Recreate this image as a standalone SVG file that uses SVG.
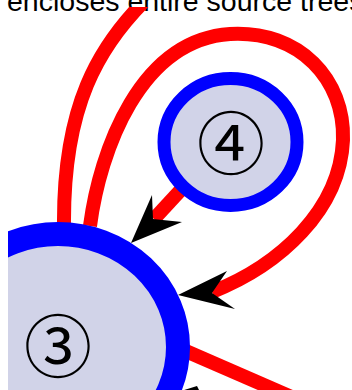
<svg xmlns="http://www.w3.org/2000/svg" width="352" height="390" viewBox="0 0 352 390">
<style>
.edge{fill:none;stroke:#ff0000;stroke-width:14;}
.arrow{fill:#000000;stroke:none;}
.node{fill:#d1d3e8;stroke:#0000ff;}
.lbl{font-family:"Noto Sans CJK JP","Noto Sans CJK SC",sans-serif;font-size:68px;fill:#000;}
.title{font-family:"Liberation Sans",Arial,sans-serif;font-size:28.5px;fill:#000;}
</style>
<defs>
<clipPath id="clipL"><rect x="8" y="7" width="344" height="383"/></clipPath>
</defs>
<text class="title" x="7" y="11">encloses entire source trees</text>
<g clip-path="url(#clipL)">
<g id="edges">
<path class="edge" d="M 158 -12 C 95 45, 63 110, 64 226"/>
<path class="edge" d="M 90 226 C 100 150, 140 40, 230 34 C 300 30, 345 80, 343 140 C 340 210, 280 265, 212 292"/>
<path class="edge" d="M 190 180 L 154 219" stroke-width="13"/>
<path class="edge" d="M 165 342 L 365 429"/>
<polygon class="arrow" points="178,295 227,271 212,293 235,309"/>
<polygon class="arrow" points="131,243 152,195 153,219 182,222"/>
<polygon class="arrow" points="181,391 197,386 200,392"/>
</g>
<g id="node3">
<ellipse class="node" cx="58" cy="347" rx="120" ry="113" stroke-width="24"/>
<text class="lbl" x="58" y="342" text-anchor="middle" dominant-baseline="central">③</text>
</g>
<g id="node4">
<ellipse class="node" cx="230.5" cy="142" rx="66.5" ry="63.5" stroke-width="13"/>
<text class="lbl" x="231" y="139" text-anchor="middle" dominant-baseline="central">④</text>
</g>
</g>
</svg>
